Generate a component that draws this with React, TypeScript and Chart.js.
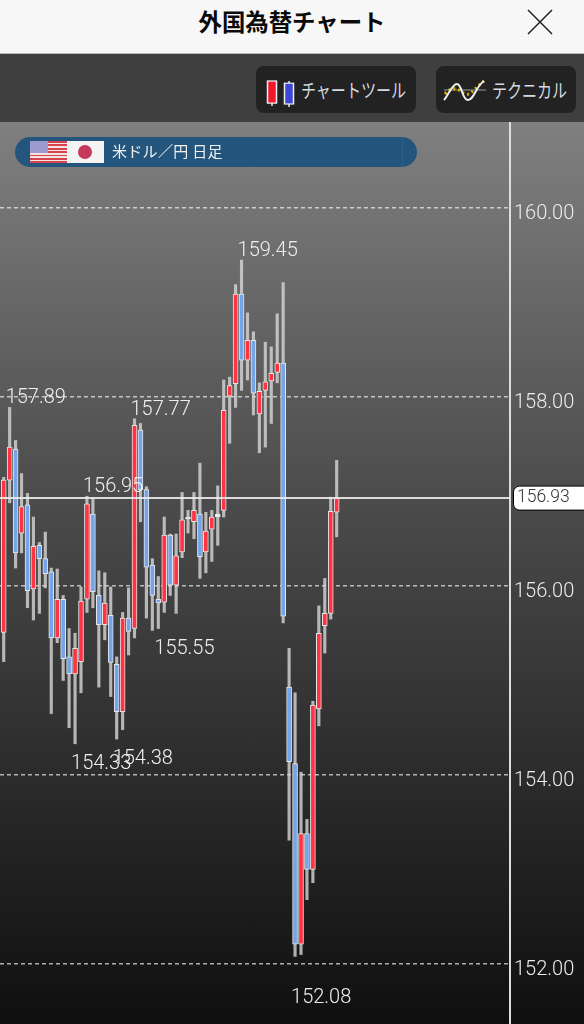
import React, { useEffect, useRef } from "react";
import { Chart, registerables } from "chart.js";

Chart.register(...registerables);

const opens = [155.51,157.12,157.45,156.56,156.86,155.97,156.43,156.29,156.15,155.45,155.86,155.25,155.07,155.20,155.86,156.76,155.90,155.59,155.69,155.17,154.67,155.66,155.55,157.65,157.02,156.22,155.86,155.83,156.54,156.01,156.36,156.71,156.68,156.76,156.36,156.60,156.73,156.80,158.01,158.14,159.09,158.39,158.60,157.82,158.07,158.17,158.26,158.36,154.93,154.12,152.21,153.38,153.00,154.70,155.58,155.71,156.78];
const highs = [157.15,157.89,157.54,157.19,156.98,156.73,156.46,156.57,156.19,156.18,155.90,155.55,155.50,155.99,156.95,156.93,156.16,156.14,155.99,155.25,155.72,155.98,157.77,157.72,157.05,156.29,156.10,156.73,156.55,156.55,156.99,156.80,156.99,157.30,156.78,156.80,157.06,158.18,158.21,159.19,159.45,158.89,158.69,158.15,158.58,158.53,158.88,159.21,155.34,154.87,154.03,153.53,154.78,155.79,156.08,156.94,157.33];
const lows = [155.20,156.88,156.19,156.35,155.77,155.64,155.71,155.98,154.65,155.40,155.00,154.50,154.33,154.87,155.72,155.77,154.93,155.43,154.83,154.38,154.48,155.27,155.45,156.68,155.66,155.53,155.55,155.72,155.90,155.71,156.30,156.56,156.50,156.08,156.14,156.26,156.43,156.73,157.51,157.89,158.07,158.18,157.81,157.41,157.47,157.72,158.15,155.61,153.31,152.08,152.10,152.68,152.86,154.52,155.29,155.65,156.52];
const closes = [157.12,157.47,156.35,156.84,155.95,156.42,156.29,156.13,155.45,155.86,155.23,155.07,155.34,155.84,156.87,155.94,155.59,155.82,155.19,154.67,155.66,155.52,157.70,157.02,156.20,155.90,155.82,156.54,156.01,156.32,156.70,156.73,156.80,156.31,156.58,156.73,156.76,157.86,158.12,159.09,158.39,158.60,158.04,158.06,158.16,158.25,158.36,155.68,154.14,152.21,153.38,153.00,154.74,155.50,155.71,156.79,156.93];

const yTicks = [152, 154, 156, 158, 160];
const currentPrice = 156.93;
const highLabels = [1, 22, 14, 40];
const lowLabels = [12, 19, 26, 49];

const NUM_FONT = "Roboto, 'Liberation Sans', sans-serif";
const JP_FONT = "'Noto Sans CJK JP', sans-serif";

const pricePlugin = {
  id: "pricePlugin",
  afterDatasetsDraw(chart: any) {
    const { ctx, chartArea, scales } = chart;
    const x = scales.x;
    const y = scales.y;
    const py = y.getPixelForValue(currentPrice);
    ctx.save();
    ctx.strokeStyle = "rgba(235,235,235,0.9)";
    ctx.lineWidth = 2;
    ctx.beginPath();
    ctx.moveTo(chartArea.left, py);
    ctx.lineTo(chartArea.right, py);
    ctx.stroke();

    ctx.font = `300 20px ${NUM_FONT}`;
    ctx.fillStyle = "#efefef";
    ctx.textAlign = "left";
    ctx.textBaseline = "middle";
    highLabels.forEach((i) => {
      ctx.fillText(highs[i].toFixed(2), x.getPixelForValue(i) - 4, y.getPixelForValue(highs[i]) - 9);
    });
    lowLabels.forEach((i) => {
      const gap = lows[i] < 153 ? 42 : 20;
      ctx.fillText(lows[i].toFixed(2), x.getPixelForValue(i) - 4, y.getPixelForValue(lows[i]) + gap);
    });

    ctx.beginPath();
    ctx.roundRect(chartArea.right + 3.5, py - 12, 78, 24, 6);
    ctx.fillStyle = "#ffffff";
    ctx.fill();
    ctx.strokeStyle = "#000000";
    ctx.lineWidth = 1;
    ctx.stroke();
    ctx.font = `300 17.5px ${NUM_FONT}`;
    ctx.fillStyle = "#333333";
    ctx.fillText(currentPrice.toFixed(2), chartArea.right + 7, py);
    ctx.restore();
  },
};

function FlagUS() {
  return (
    <div style={{ position: "absolute", left: 30, top: 141, width: 37, height: 22, background: "repeating-linear-gradient(180deg,#d8434e 0,#d8434e 1.7px,#f3e3e3 1.7px,#f3e3e3 3.4px)" }}>
      <div style={{ position: "absolute", left: 0, top: 0, width: 18, height: 12, background: "#9b9bd2" }} />
    </div>
  );
}

function FlagJP() {
  return (
    <div style={{ position: "absolute", left: 67, top: 141, width: 37, height: 22, background: "#f4f4f4" }}>
      <div style={{ position: "absolute", left: 11, top: 4, width: 14, height: 14, borderRadius: 7, background: "#c9375c" }} />
    </div>
  );
}

function ButtonText({ left, text }: { left: number; text: string }) {
  return (
    <div style={{ position: "absolute", left, top: 76, height: 28, lineHeight: "28px", fontFamily: JP_FONT, fontSize: 19, color: "#d5dbe0", whiteSpace: "nowrap", transform: "scaleX(0.79)", transformOrigin: "left center" }}>
      {text}
    </div>
  );
}

export default function App() {
  const ref = useRef<HTMLCanvasElement>(null);

  useEffect(() => {
    document.body.style.margin = "0";
    const indices = opens.map((_, i) => i);
    const isDoji = (i: number) => Math.abs(closes[i] - opens[i]) < 0.035;
    const fill = (i: number) => (isDoji(i) ? "#f2f2f2" : closes[i] >= opens[i] ? "#ff3344" : "#76a4ea");
    const chart = new Chart(ref.current as HTMLCanvasElement, {
      type: "bar",
      plugins: [pricePlugin],
      data: {
        datasets: [
          {
            label: "body",
            order: 1,
            grouped: false,
            barThickness: 5,
            borderWidth: 1,
            borderSkipped: false,
            borderColor: "#e6e6e6",
            backgroundColor: indices.map(fill),
            data: indices.map((i) => ({ x: i, y: [opens[i], closes[i]] })),
          },
          {
            label: "wick",
            order: 2,
            grouped: false,
            barThickness: 2.5,
            borderWidth: 0,
            backgroundColor: "rgba(215,215,215,0.8)",
            data: indices.map((i) => ({ x: i, y: [lows[i], highs[i]] })),
          },
        ] as any,
      },
      options: {
        animation: false,
        responsive: false,
        layout: { padding: 0 },
        plugins: { legend: { display: false }, tooltip: { enabled: false } },
        scales: {
          x: { type: "linear", display: false, offset: false, min: -0.622, max: 85.15 },
          y: {
            type: "linear",
            position: "right",
            min: 151.365,
            max: 160.91,
            afterFit: (s: any) => { s.width = 74; s.paddingTop = 0; s.paddingBottom = 0; },
            afterBuildTicks: (s: any) => { s.ticks = yTicks.map((value) => ({ value })); },
            border: { display: true, color: "#dddddd", width: 2, dash: [4, 3] },
            grid: { color: "rgba(255,255,255,0.65)", lineWidth: 1.5, drawTicks: false },
            ticks: {
              color: "#ececec",
              padding: 4,
              labelOffset: 6,
              font: { family: NUM_FONT, size: 20, weight: "300" },
              callback: (v: any) => Number(v).toFixed(2),
            },
          },
        },
      } as any,
    });
    return () => chart.destroy();
  }, []);

  return (
    <div style={{ position: "relative", width: 584, height: 1024, overflow: "hidden" }}>
      <div style={{ position: "absolute", left: 0, top: 0, width: 584, height: 54, background: "#f7f7f7", borderBottom: "1px solid #b8b8b8", boxSizing: "border-box" }} />
      <div style={{ position: "absolute", left: 0, top: 0, width: 584, height: 42, textAlign: "center", lineHeight: "42px", fontFamily: JP_FONT, fontWeight: 700, fontSize: 23.4, color: "#0a0a0a" }}>
        外国為替チャート
      </div>
      <svg style={{ position: "absolute", left: 526, top: 8 }} width="28" height="28">
        <path d="M2 2 L26 26 M26 2 L2 26" stroke="#222" strokeWidth="1.5" />
      </svg>
      <div style={{ position: "absolute", left: 0, top: 54, width: 584, height: 68, background: "#3f3f3f" }} />
      <div style={{ position: "absolute", left: 256, top: 66, width: 160, height: 47, background: "#222222", borderRadius: 8 }} />
      <div style={{ position: "absolute", left: 436, top: 66, width: 140, height: 47, background: "#222222", borderRadius: 8 }} />
      <svg style={{ position: "absolute", left: 262, top: 70 }} width="34" height="40">
        <path d="M10 13 V36 M27 11 V37" stroke="#e8e8e8" strokeWidth="1.5" />
        <rect x="5.5" y="20" width="9" height="26" fill="#f0172a" stroke="#eee" strokeWidth="1.5" transform="translate(0,-6) scale(1,0.85)" />
        <rect x="22.5" y="14" width="9" height="26" fill="#3e46d8" stroke="#eee" strokeWidth="1.5" transform="translate(0,2) scale(1,0.8)" />
      </svg>
      <ButtonText left={301} text="チャートツール" />
      <svg style={{ position: "absolute", left: 442, top: 76 }} width="46" height="28">
        <path d="M2 14 H44" stroke="#999" strokeWidth="1" />
        <path d="M3 18 C8 12 12 12 17 14 C22 18 26 20 30 16 C34 12 38 8 42 5" stroke="#d9b100" strokeWidth="3" strokeDasharray="2 3" fill="none" />
        <path d="M2 24 C6 20 10 8 15 8 C20 8 20 24 26 24 C32 24 34 10 42 5" stroke="#eee" strokeWidth="2" fill="none" />
      </svg>
      <ButtonText left={492} text="テクニカル" />
      <div style={{ position: "absolute", left: 0, top: 122, width: 584, height: 902, background: "linear-gradient(180deg,#808080 0%,#4b4b4b 42%,#0f0f0f 100%)" }}>
        <canvas ref={ref} width={584} height={902} style={{ display: "block" }} />
      </div>
      <div style={{ position: "absolute", left: 15, top: 137, width: 402, height: 30, borderRadius: 15, background: "#24567d" }} />
      <div style={{ position: "absolute", left: 402, top: 137, width: 1, height: 30, background: "#2f6288" }} />
      <FlagUS />
      <FlagJP />
      <div style={{ position: "absolute", left: 112, top: 137, height: 28, lineHeight: "28px", fontFamily: JP_FONT, fontSize: 15, letterSpacing: 0.3, color: "#f0f0f0", whiteSpace: "pre" }}>
        {"米ドル／円 日足"}
      </div>
    </div>
  );
}
